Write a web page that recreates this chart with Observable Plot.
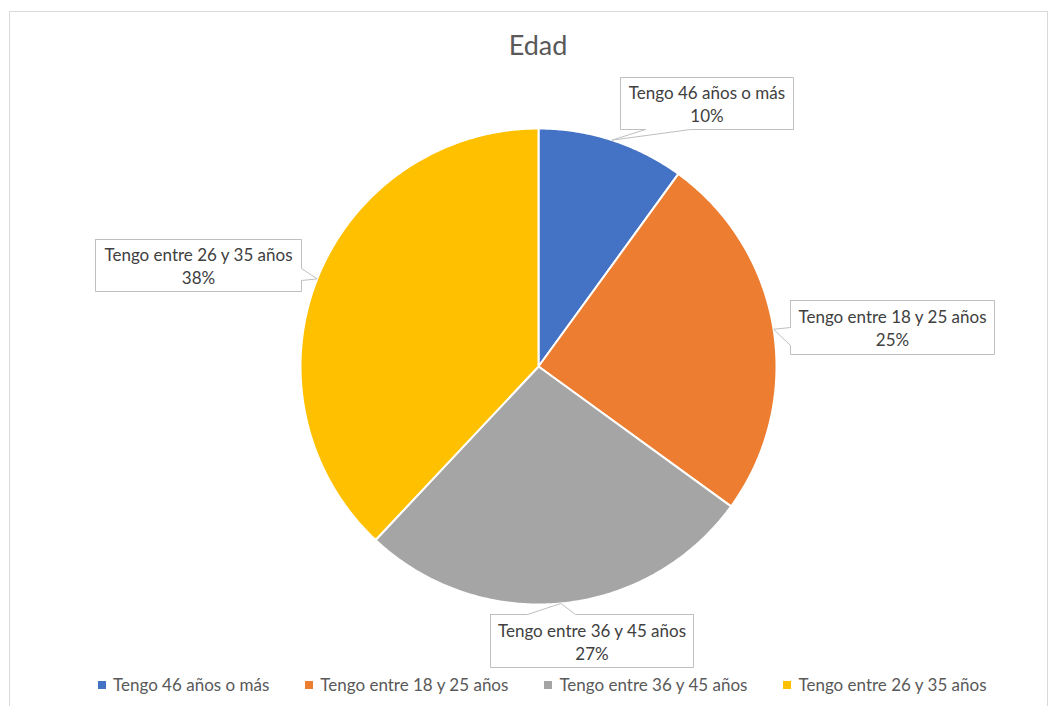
<!DOCTYPE html>
<html>
<head>
<meta charset="utf-8">
<script src="https://cdn.jsdelivr.net/npm/d3@7"></script>
<script src="https://cdn.jsdelivr.net/npm/@observablehq/plot@0.6"></script>
<style>
  html, body { margin: 0; padding: 0; background: #fff; }
  #wrap { position: relative; width: 1050px; height: 706px; overflow: hidden; font-family: Lato, "Open Sans", sans-serif; }
  #frame { position: absolute; left: 9px; top: 11px; width: 1039px; height: 720px; border: 1px solid #d9d9d9; box-sizing: border-box; }
  #title { position: absolute; left: 0; width: 1076px; top: 28px; text-align: center; font-size: 27px; color: #595959; }
  #chart { position: absolute; left: 0; top: 0; }
  #legend { position: absolute; left: 98px; top: 674px; display: flex; gap: 36px; font-size: 17px; color: #595959; white-space: nowrap; }
  #legend .item { display: flex; align-items: center; }
  #legend .sw { width: 8px; height: 8px; margin-right: 7px; }
</style>
</head>
<body>
<div id="wrap">
  <div id="frame"></div>
  <div id="chart"></div>
  <div id="title">Edad</div>
  <div id="legend"></div>
</div>
<script>
// ---- data ----
const categories = ["Tengo 46 años o más", "Tengo entre 18 y 25 años", "Tengo entre 36 y 45 años", "Tengo entre 26 y 35 años"];
const shares = [10, 25, 27, 38];
const colors = ["#4472C4", "#ED7D31", "#A5A5A5", "#FFC000"];

// ---- layout (pixels) for callout boxes ----
const center = {x: 538, y: 366}, R = 238;
const callouts = [
  {cx: 706.5, cy: 103, w: 173, h: 52, side: "bottom", b0: 645, b1: 690},
  {cx: 892, cy: 327, w: 204, h: 54, side: "left", b0: 327, b1: 345},
  {cx: 591.5, cy: 640.5, w: 203, h: 53, side: "top", b0: 527, b1: 575},
  {cx: 198, cy: 265, w: 206, h: 52, side: "right", b0: 268, b1: 280}
];

const toX = px => (px - center.x) / R;
const toY = py => (center.y - py) / R;

const rows = categories.map((c, i) => ({category: c, value: shares[i]}));
const arcs = d3.pie().sort(null).value(d => d.value)(rows);

// slice polygons in unit coordinates
const slicePts = [];
arcs.forEach((a, i) => {
  const key = a.data.category;
  slicePts.push({key, x: 0, y: 0});
  const n = Math.max(2, Math.ceil((a.endAngle - a.startAngle) / (Math.PI / 360)));
  for (let k = 0; k <= n; k++) {
    const t = a.startAngle + (a.endAngle - a.startAngle) * k / n;
    slicePts.push({key, x: Math.sin(t), y: Math.cos(t)});
  }
  slicePts.push({key, x: 0, y: 0});
});

// callout polygons
const boxPts = [];
const labels = [];
arcs.forEach((a, i) => {
  const L = callouts[i];
  const mid = (a.startAngle + a.endAngle) / 2;
  const tip = {x: Math.sin(mid), y: Math.cos(mid)};
  const l = L.cx - L.w / 2, r = L.cx + L.w / 2, t = L.cy - L.h / 2, b = L.cy + L.h / 2;
  let pts = [];
  const P = (px, py) => ({x: toX(px), y: toY(py)});
  if (L.side === "bottom") pts = [P(l,t), P(r,t), P(r,b), P(L.b1,b), tip, P(L.b0,b), P(l,b), P(l,t)];
  if (L.side === "top") pts = [P(l,t), P(L.b0,t), tip, P(L.b1,t), P(r,t), P(r,b), P(l,b), P(l,t)];
  if (L.side === "left") pts = [P(l,t), P(r,t), P(r,b), P(l,b), P(l,L.b1), tip, P(l,L.b0), P(l,t)];
  if (L.side === "right") pts = [P(l,t), P(r,t), P(r,L.b0), tip, P(r,L.b1), P(r,b), P(l,b), P(l,t)];
  pts.forEach(p => boxPts.push({key: a.data.category, x: p.x, y: p.y}));
  labels.push({x: toX(L.cx), y: toY(L.cy), text: `${a.data.category}\n${a.data.value}%`});
});

const chart = Plot.plot({
  width: 1050,
  height: 706,
  margin: 0,
  style: {background: "transparent", fontFamily: "Lato, 'Open Sans', sans-serif", overflow: "visible"},
  x: {domain: [-1, 1], range: [center.x - R, center.x + R], axis: null},
  y: {domain: [-1, 1], range: [center.y + R, center.y - R], axis: null},
  color: {domain: categories, range: colors},
  marks: [
    Plot.line(slicePts, {x: "x", y: "y", z: "key", fill: "key", stroke: "white", strokeWidth: 2, strokeLinejoin: "round"}),
    Plot.line(boxPts, {x: "x", y: "y", z: "key", fill: "white", stroke: "#bfbfbf", strokeWidth: 1}),
    Plot.text(labels, {x: "x", y: "y", text: "text", fontSize: 17, fill: "#404040", lineHeight: 1.35})
  ]
});
document.getElementById("chart").appendChild(chart);

// legend
const leg = document.getElementById("legend");
categories.forEach((c, i) => {
  const it = document.createElement("div");
  it.className = "item";
  const sw = document.createElement("span");
  sw.className = "sw";
  sw.style.background = colors[i];
  const tx = document.createElement("span");
  tx.textContent = c;
  it.appendChild(sw); it.appendChild(tx);
  leg.appendChild(it);
});
</script>
</body>
</html>
